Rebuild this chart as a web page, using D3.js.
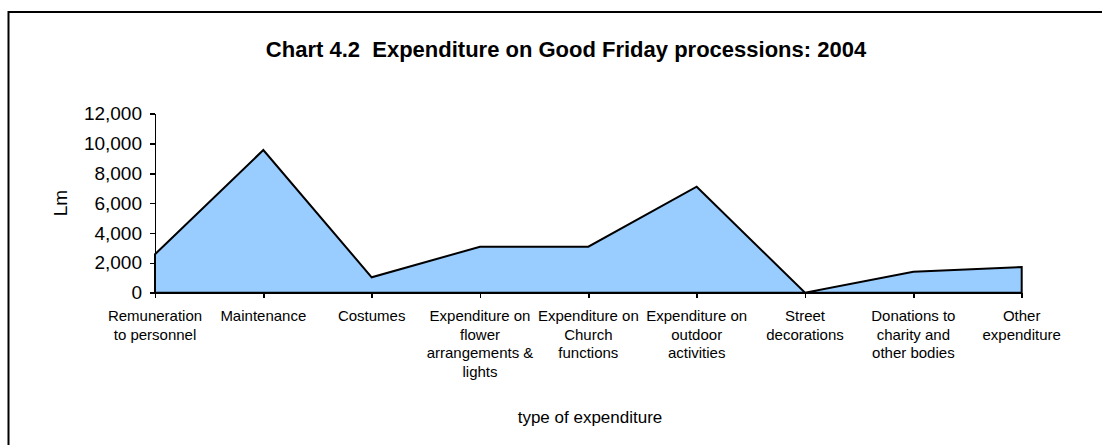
<!DOCTYPE html>
<html>
<head>
<meta charset="utf-8">
<script src="https://cdn.jsdelivr.net/npm/d3@7"></script>
<style>
  html, body { margin: 0; padding: 0; background: #fff; overflow: hidden; }
  svg { display: block; font-family: "Liberation Sans", Arial, sans-serif; }
  .axis path, .axis line { stroke: #000; stroke-width: 1.6px; shape-rendering: crispEdges; }
  .axis text { fill: #000; }
</style>
</head>
<body>
<div id="chart"></div>
<script>
const categories = [
  'Remuneration to personnel',
  'Maintenance',
  'Costumes',
  'Expenditure on flower arrangements & lights',
  'Expenditure on Church functions',
  'Expenditure on outdoor activities',
  'Street decorations',
  'Donations to charity and other bodies',
  'Other expenditure'
];
const categoryLines = [
  ['Remuneration', 'to personnel'],
  ['Maintenance'],
  ['Costumes'],
  ['Expenditure on', 'flower', 'arrangements &', 'lights'],
  ['Expenditure on', 'Church', 'functions'],
  ['Expenditure on', 'outdoor', 'activities'],
  ['Street', 'decorations'],
  ['Donations to', 'charity and', 'other bodies'],
  ['Other', 'expenditure']
];
const values = [2570, 9560, 1030, 3080, 3080, 7100, 0, 1400, 1720];
const yTicks = [0, 2000, 4000, 6000, 8000, 10000, 12000];

const title = 'Chart 4.2  Expenditure on Good Friday processions: 2004';
const yTitle = 'Lm';
const xTitle = 'type of expenditure';

const width = 1102;
const height = 445;

const svg = d3
  .select('#chart')
  .append('svg')
  .attr('width', width)
  .attr('height', height);

// outer frame (right and bottom edges fall outside the picture)
svg
  .append('rect')
  .attr('x', 8.5)
  .attr('y', 12)
  .attr('width', 1200)
  .attr('height', 500)
  .attr('fill', '#fff')
  .attr('stroke', '#000')
  .attr('stroke-width', 2);

svg
  .append('text')
  .attr('x', 566)
  .attr('y', 56.5)
  .attr('text-anchor', 'middle')
  .attr('font-size', '22px')
  .attr('font-weight', 'bold')
  .style('white-space', 'pre')
  .text(title);

const x = d3.scalePoint().domain(categories).range([155, 1021.7]);
const y = d3.scaleLinear().domain([0, 12000]).range([292.7, 113.6]);

const area = d3
  .area()
  .x((d, i) => x(categories[i]))
  .y0(y(0))
  .y1(d => y(d));

svg
  .append('path')
  .datum(values)
  .attr('fill', '#99ccff')
  .attr('stroke', '#000')
  .attr('stroke-width', 2)
  .attr('stroke-linejoin', 'miter')
  .attr('d', area);

svg
  .append('g')
  .attr('class', 'axis y')
  .attr('transform', 'translate(155,0)')
  .call(
    d3
      .axisLeft(y)
      .tickValues(yTicks)
      .tickSize(5)
      .tickSizeOuter(0)
      .tickPadding(8)
      .tickFormat(d3.format(','))
  )
  .call(g => g.selectAll('text').attr('font-size', '19px').attr('font-family', null));

const xAxis = svg
  .append('g')
  .attr('class', 'axis x')
  .attr('transform', `translate(0,${y(0)})`)
  .call(d3.axisBottom(x).tickSize(5).tickSizeOuter(0).tickFormat(''));

xAxis.selectAll('.tick text').remove();

const labels = svg
  .append('g')
  .attr('font-size', '15px')
  .attr('text-anchor', 'middle');

categories.forEach((c, i) => {
  const t = labels.append('text').attr('x', x(c)).attr('y', 321);
  categoryLines[i].forEach((line, j) => {
    t.append('tspan')
      .attr('x', x(c))
      .attr('dy', j === 0 ? 0 : 18.5)
      .text(line);
  });
});

svg
  .append('text')
  .attr('transform', 'translate(67,203) rotate(-90)')
  .attr('text-anchor', 'middle')
  .attr('font-size', '19px')
  .text(yTitle);

svg
  .append('text')
  .attr('x', 590)
  .attr('y', 423)
  .attr('text-anchor', 'middle')
  .attr('font-size', '17px')
  .text(xTitle);
</script>
</body>
</html>
